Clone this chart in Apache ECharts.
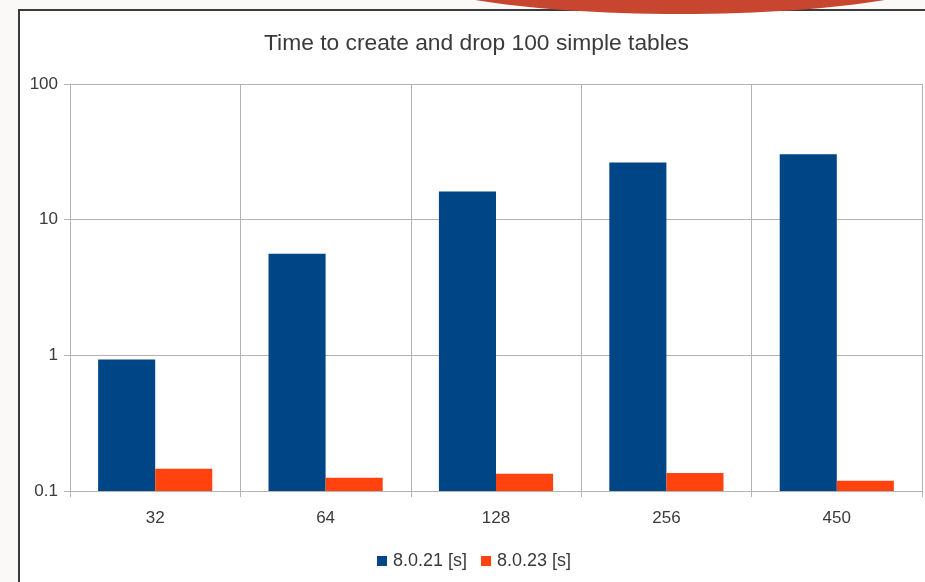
<!DOCTYPE html>
<html><head><meta charset="utf-8">
<script src="https://cdn.jsdelivr.net/npm/echarts@6/dist/echarts.min.js"></script>
<style>html,body{margin:0;padding:0;background:#faf9f7}#c{width:925px;height:582px}</style>
</head><body><div id="c"></div>
<script>
const categories = ['32', '64', '128', '256', '450'];
const v8021 = [0.93, 5.6, 16.1, 26.4, 30.3];
const v8023 = [0.146, 0.125, 0.134, 0.136, 0.119];
const yTicks = [0.1, 1, 10, 100];
const seriesNames = ['8.0.21 [s]', '8.0.23 [s]'];
const colors = ['#004586', '#ff420e'];

const chart = echarts.init(document.getElementById('c'), null, {renderer: 'canvas'});
const font = 'Liberation Sans, Arial, sans-serif';
const BASE = 0.1;
function makeRender(idx) {
  return function (params, api) {
    const xi = api.value(0), v = api.value(1);
    const top = api.coord([xi, v]);
    const base = api.coord([xi, BASE]);
    const w = api.size([1, 0])[0];
    const bw = w * 0.335;
    const x0 = top[0] + (idx === 0 ? -bw : 0);
    return {type: 'rect', shape: {x: x0, y: top[1], width: bw, height: base[1] - top[1]},
      style: {fill: colors[idx]}};
  };
}
chart.setOption({
  backgroundColor: '#faf9f7',
  animation: false,
  graphic: [
    {type: 'rect', z: -10, shape: {x: 19, y: 10, width: 920, height: 590},
     style: {fill: '#ffffff', stroke: '#3a3a3a', lineWidth: 2}},
    {type: 'ellipse', z: -5, shape: {cx: 680, cy: -30, rx: 280, ry: 44},
     style: {fill: '#c8452f'}}
  ],
  title: {
    text: 'Time to create and drop 100 simple tables',
    left: 259, top: 27,
    textStyle: {fontFamily: font, fontSize: 22.8, fontWeight: 'normal', color: '#3a3a3a'}
  },
  legend: {
    bottom: 7, left: 372,
    itemWidth: 10, itemHeight: 10, itemGap: 14,
    icon: 'rect',
    textStyle: {fontFamily: font, fontSize: 18, color: '#3a3a3a', padding: [0, 0, 0, 1]},
    data: seriesNames.map((n, i) => ({name: n, itemStyle: {color: colors[i]}}))
  },
  grid: {left: 70, right: 3, top: 84, bottom: 91, containLabel: false},
  xAxis: {
    type: 'category', data: categories,
    axisLine: {lineStyle: {color: '#b3b3b3'}},
    axisTick: {show: true, length: 6, lineStyle: {color: '#b3b3b3'}},
    axisLabel: {fontFamily: font, fontSize: 17, color: '#3a3a3a', margin: 19},
    splitLine: {show: true, lineStyle: {color: '#b3b3b3'}}
  },
  yAxis: {
    type: 'log', logBase: 10, min: 0.1, max: 100,
    axisLine: {show: true, lineStyle: {color: '#b3b3b3'}},
    axisTick: {show: true, length: 6, lineStyle: {color: '#b3b3b3'}},
    axisLabel: {fontFamily: font, fontSize: 17, color: '#3a3a3a', margin: 12,
      formatter: v => { const t = yTicks.find(x => Math.abs(x - v) / x < 1e-6); return t === undefined ? '' : String(t); }},
    splitLine: {show: true, lineStyle: {color: '#b3b3b3'}}
  },
  series: [v8021, v8023].map((arr, i) => ({
    name: seriesNames[i], type: 'custom', itemStyle: {color: colors[i]},
    renderItem: makeRender(i),
    encode: {x: 0, y: 1},
    data: arr.map((v, k) => [k, v])
  }))
});
</script></body></html>
